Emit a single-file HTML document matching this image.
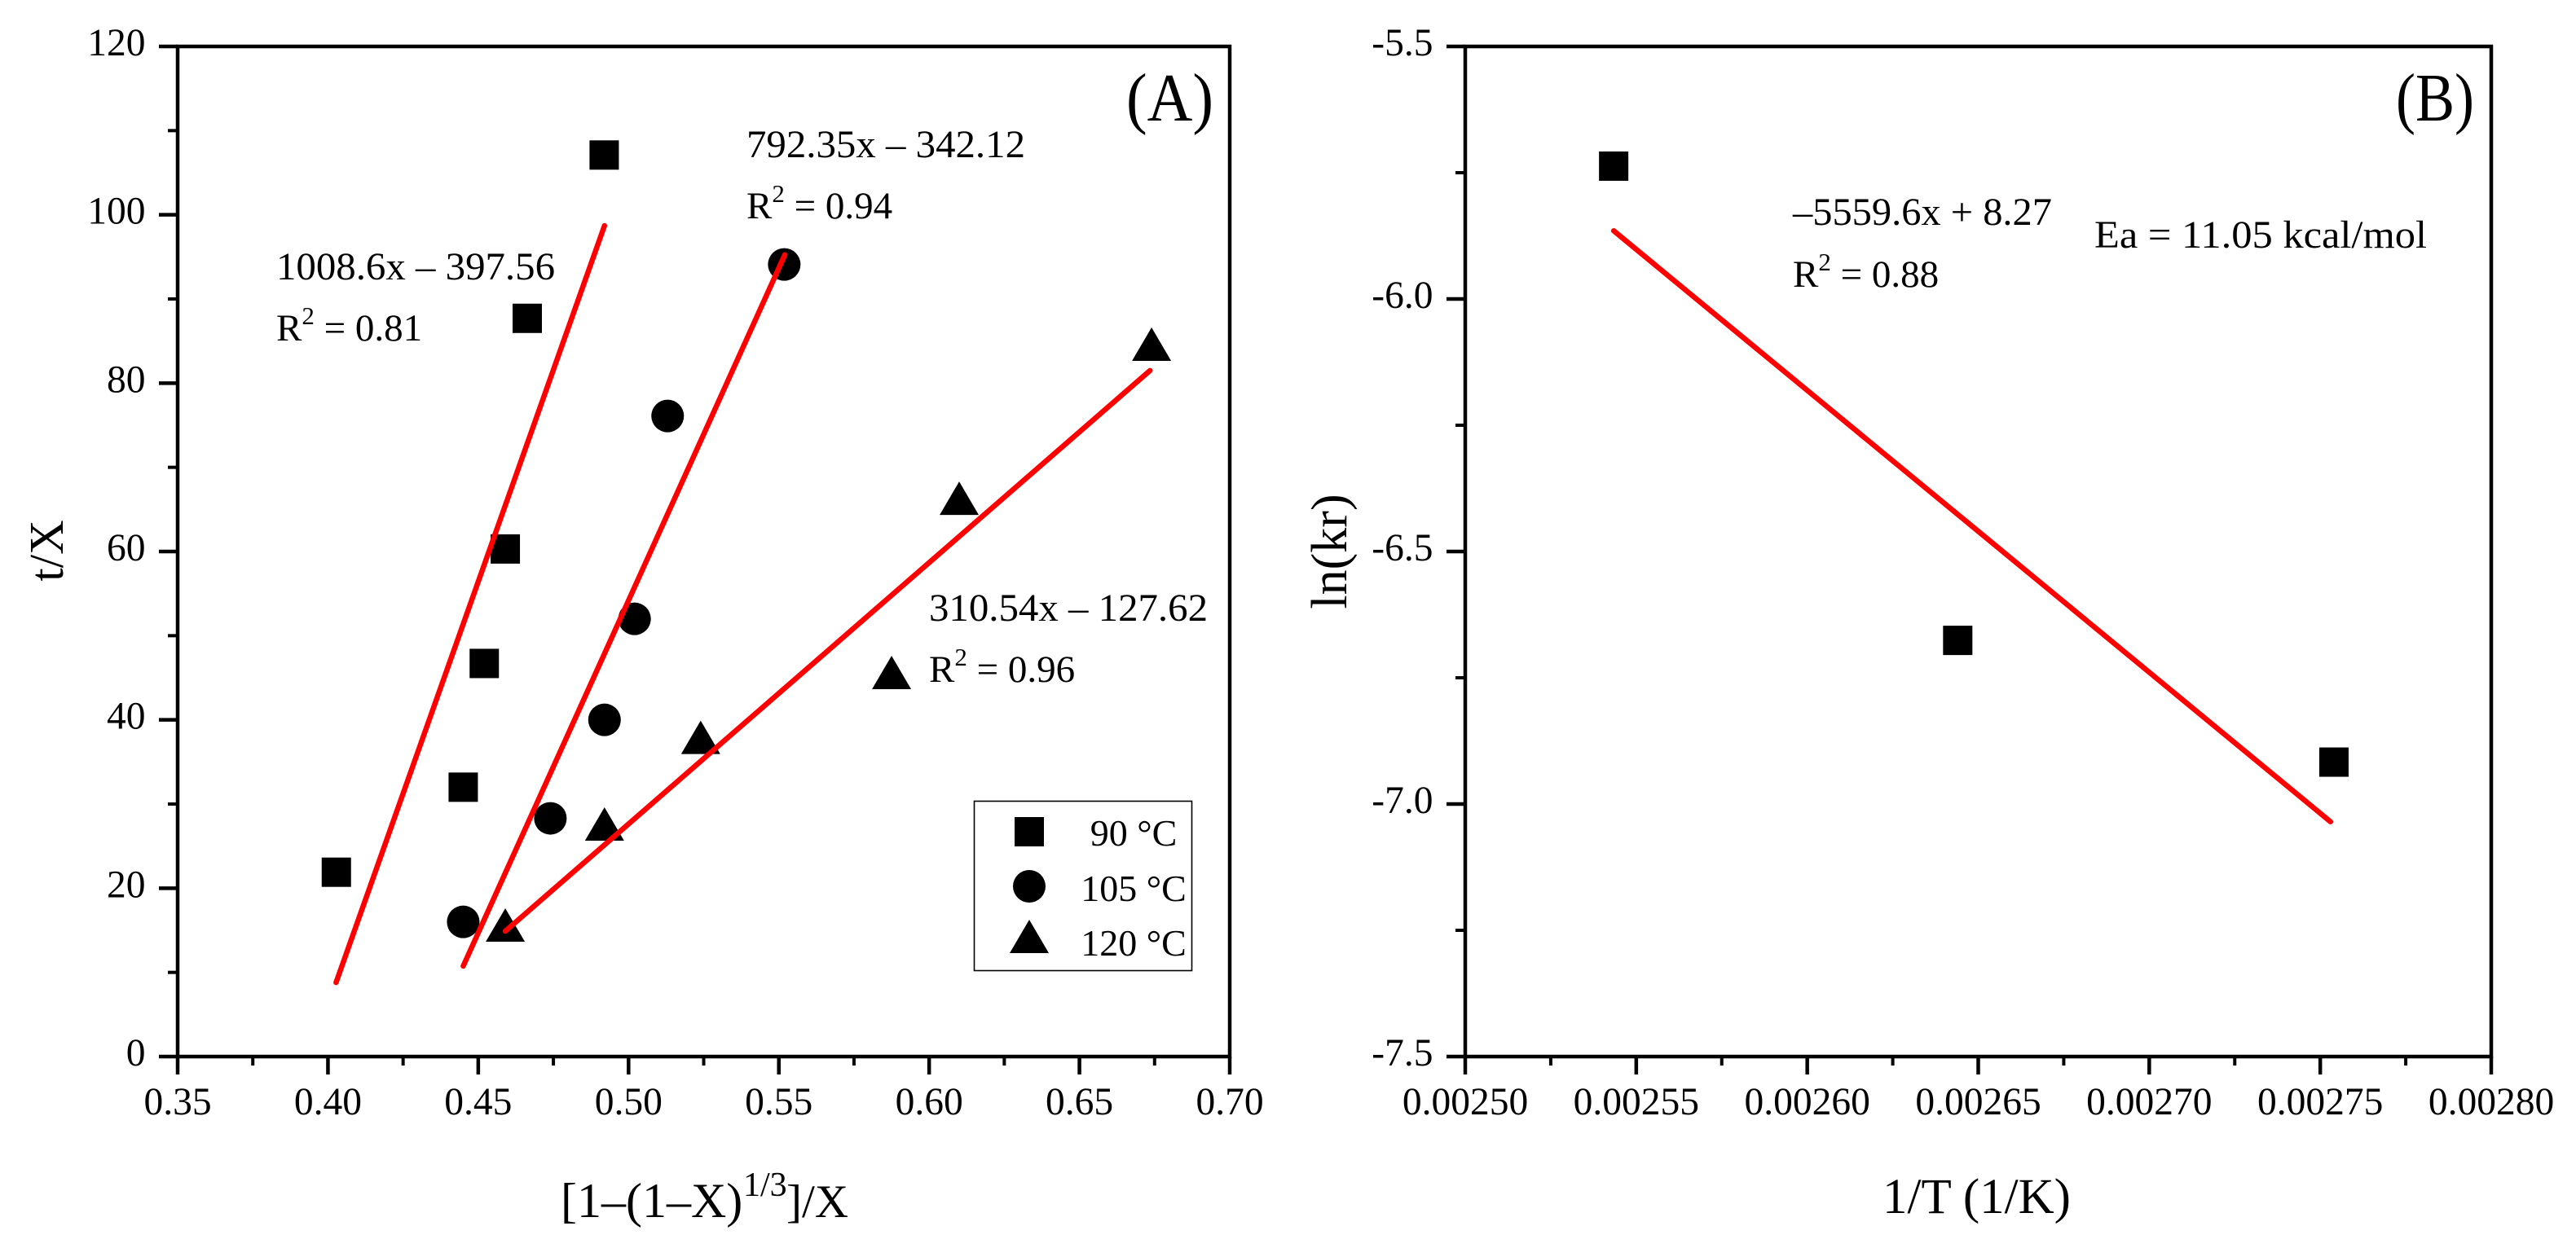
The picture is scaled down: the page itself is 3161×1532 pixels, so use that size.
<!DOCTYPE html>
<html lang="en">
<head>
<meta charset="utf-8">
<title>Kinetic plots (A) and (B)</title>
<style>
html,body{margin:0;padding:0;background:#fff;}
svg{display:block;}
text{font-family:"Liberation Serif",serif;fill:#000;}
</style>
</head>
<body>
<svg id="figure" xmlns="http://www.w3.org/2000/svg" width="3161" height="1532" viewBox="0 0 3161 1532">
  <rect x="0" y="0" width="3161" height="1532" fill="#fff"/>
  <g id="panelA"></g>
  <g id="panelB"></g>

  <text x="1382" y="148" font-size="84" textLength="107" lengthAdjust="spacingAndGlyphs">(A)</text>
  <text x="2940" y="148" font-size="84" textLength="96" lengthAdjust="spacingAndGlyphs">(B)</text>

  <text y="1494" font-size="60"><tspan x="688">[1–(1–X)</tspan><tspan x="912" dy="-26" font-size="42">1/3</tspan><tspan x="965" dy="26" font-size="57">]/X</tspan></text>
  <text transform="translate(77,676) rotate(-90)" text-anchor="middle" font-size="59">t/X</text>
  <text x="2310" y="1489" font-size="61">1/T (1/K)</text>
  <text transform="translate(1652,677) rotate(-90)" text-anchor="middle" font-size="62">ln(kr)</text>

  <text x="339" y="343" font-size="48" textLength="342" lengthAdjust="spacingAndGlyphs">1008.6x – 397.56</text>
  <text x="339" y="418" font-size="47">R<tspan dy="-20" font-size="31">2</tspan><tspan dy="20"> = 0.81</tspan></text>
  <text x="916" y="193" font-size="48" textLength="342" lengthAdjust="spacingAndGlyphs">792.35x – 342.12</text>
  <text x="916" y="268" font-size="47">R<tspan dy="-20" font-size="31">2</tspan><tspan dy="20"> = 0.94</tspan></text>
  <text x="1140" y="762" font-size="48" textLength="342" lengthAdjust="spacingAndGlyphs">310.54x – 127.62</text>
  <text x="1140" y="837" font-size="47">R<tspan dy="-20" font-size="31">2</tspan><tspan dy="20"> = 0.96</tspan></text>
  <text x="2200" y="276" font-size="48" textLength="318" lengthAdjust="spacingAndGlyphs">–5559.6x + 8.27</text>
  <text x="2200" y="352" font-size="47">R<tspan dy="-20" font-size="31">2</tspan><tspan dy="20"> = 0.88</tspan></text>
  <text x="2570" y="304" font-size="48" textLength="408" lengthAdjust="spacingAndGlyphs">Ea = 11.05 kcal/mol</text>

  <g id="legend">
    <rect x="1195.5" y="983.5" width="267" height="208" fill="#fff" stroke="#000" stroke-width="1.6"/>
    <rect x="1245" y="1003" width="36" height="36" fill="#000"/>
    <circle cx="1263" cy="1088" r="20" fill="#000"/>
    <polygon points="1263,1129 1287,1170 1239,1170" fill="#000"/>
    <text x="1391" y="1038" font-size="46" text-anchor="middle">90 °C</text>
    <text x="1391" y="1106" font-size="46" text-anchor="middle">105 °C</text>
    <text x="1391" y="1173" font-size="46" text-anchor="middle">120 °C</text>
  </g>
</svg>

<script>
// ---- Panel A data ----
const aXTicks = [0.35, 0.40, 0.45, 0.50, 0.55, 0.60, 0.65, 0.70];
const aXTickLabels = ["0.35", "0.40", "0.45", "0.50", "0.55", "0.60", "0.65", "0.70"];
const aXMinorTicks = [0.375, 0.425, 0.475, 0.525, 0.575, 0.625, 0.675];
const aYTicks = [0, 20, 40, 60, 80, 100, 120];
const aYTickLabels = ["0", "20", "40", "60", "80", "100", "120"];
const aYMinorTicks = [10, 30, 50, 70, 90, 110];

const series90X = [0.4028, 0.445, 0.452, 0.459, 0.4663, 0.4919];
const series90Y = [21.9, 32, 46.7, 60.3, 87.7, 107.1];
const series105X = [0.445, 0.474, 0.492, 0.502, 0.513, 0.5518];
const series105Y = [16, 28.3, 40, 52, 76.1, 94.1];
const series120X = [0.459, 0.492, 0.524, 0.5875, 0.61, 0.674];
const series120Y = [15, 27, 37.3, 45, 65.7, 84];

const fit90X = [0.4027, 0.492];
const fit90Y = [8.8, 98.7];
const fit105X = [0.445, 0.552];
const fit105Y = [10.75, 95.25];
const fit120X = [0.459, 0.6735];
const fit120Y = [14.9, 81.5];

// ---- Panel B data ----
const bXTicks = [0.0025, 0.00255, 0.0026, 0.00265, 0.0027, 0.00275, 0.0028];
const bXTickLabels = ["0.00250", "0.00255", "0.00260", "0.00265", "0.00270", "0.00275", "0.00280"];
const bXMinorTicks = [0.002525, 0.002575, 0.002625, 0.002675, 0.002725, 0.002775];
const bYTicks = [-7.5, -7.0, -6.5, -6.0, -5.5];
const bYTickLabels = ["-7.5", "-7.0", "-6.5", "-6.0", "-5.5"];
const bYMinorTicks = [-7.25, -6.75, -6.25, -5.75];

const arrheniusX = [0.0025434, 0.002644, 0.002754];
const arrheniusY = [-5.737, -6.676, -6.917];
const arrheniusFitX = [0.0025434, 0.002753];
const arrheniusFitY = [-5.865, -7.035];

// ---- Helpers ----
const NS = "http://www.w3.org/2000/svg";
function mk(tag, geom, parent) {
  const el = document.createElementNS(NS, tag);
  for (const k in geom) el.setAttribute(k, geom[k]);
  parent.appendChild(el);
  return el;
}
function scale(d0, d1, r0, r1) {
  return function (v) { return r0 + (v - d0) * (r1 - r0) / (d1 - d0); };
}

function drawAxes(g, sx, sy, cfg) {
  const L = sx(cfg.xMin), R = sx(cfg.xMax), T = sy(cfg.yMax), B = sy(cfg.yMin);
  const frame = mk("path", {
    d: "M" + L + " " + T + "H" + R + "V" + B + "H" + L + "Z",
    fill: "none", stroke: "#000", "stroke-width": 4.5
  }, g);
  
  

  cfg.xTicks.forEach(function (v, i) {
    const t = mk("line", { x1: sx(v), x2: sx(v), y1: B, y2: B + 22, stroke: "#000", "stroke-width": 4.5 }, g);
    
    
    const l = mk("text", { x: sx(v), y: B + 71, "font-size": 47.5, "text-anchor": "middle" }, g);
    
    
    l.textContent = cfg.xLabels[i];
  });
  cfg.xMinor.forEach(function (v) {
    const t = mk("line", { x1: sx(v), x2: sx(v), y1: B, y2: B + 11, stroke: "#000", "stroke-width": 4 }, g);
    
    
  });
  cfg.yTicks.forEach(function (v, i) {
    const t = mk("line", { x1: L - 23, x2: L, y1: sy(v), y2: sy(v), stroke: "#000", "stroke-width": 4.5 }, g);
    
    
    const l = mk("text", { x: L - 39.5, y: sy(v) + 11, "font-size": 47.5, "text-anchor": "end" }, g);
    
    
    l.textContent = cfg.yLabels[i];
  });
  cfg.yMinor.forEach(function (v) {
    const t = mk("line", { x1: L - 12, x2: L, y1: sy(v), y2: sy(v), stroke: "#000", "stroke-width": 4 }, g);
    
    
  });
}

function drawSquares(g, sx, sy, xs, ys) {
  xs.forEach(function (x, i) {
    const m = mk("rect", { x: sx(x) - 18, y: sy(ys[i]) - 18, width: 36, height: 36, fill: "#000" }, g);
    
    
  });
}
function drawCircles(g, sx, sy, xs, ys) {
  xs.forEach(function (x, i) {
    const m = mk("circle", { cx: sx(x), cy: sy(ys[i]), r: 20, fill: "#000" }, g);
    
    
  });
}
function drawTriangles(g, sx, sy, xs, ys) {
  xs.forEach(function (x, i) {
    const cx = sx(x), cy = sy(ys[i]);
    const pts = cx + "," + (cy - 27) + " " + (cx + 24) + "," + (cy + 14) + " " + (cx - 24) + "," + (cy + 14);
    const m = mk("polygon", { points: pts, fill: "#000" }, g);
    
    
  });
}
function drawFit(g, sx, sy, xs, ys) {
  const line = mk("line", {
    x1: sx(xs[0]), y1: sy(ys[0]), x2: sx(xs[1]), y2: sy(ys[1]),
    stroke: "#ff0000", "stroke-width": 6.5, "stroke-linecap": "round"
  }, g);
  
  
}

// ---- Panel A ----
const gA = document.getElementById("panelA");
const ax = scale(0.35, 0.70, 218, 1509);
const ay = scale(0, 120, 1297, 57);
drawAxes(gA, ax, ay, {
  xMin: 0.35, xMax: 0.70, yMin: 0, yMax: 120,
  xTicks: aXTicks, xLabels: aXTickLabels, xMinor: aXMinorTicks,
  yTicks: aYTicks, yLabels: aYTickLabels, yMinor: aYMinorTicks
});
drawSquares(gA, ax, ay, series90X, series90Y);
drawCircles(gA, ax, ay, series105X, series105Y);
drawTriangles(gA, ax, ay, series120X, series120Y);
drawFit(gA, ax, ay, fit90X, fit90Y);
drawFit(gA, ax, ay, fit105X, fit105Y);
drawFit(gA, ax, ay, fit120X, fit120Y);

// ---- Panel B ----
const gB = document.getElementById("panelB");
const bx = scale(0.0025, 0.0028, 1798, 3057);
const by = scale(-7.5, -5.5, 1297, 57);
drawAxes(gB, bx, by, {
  xMin: 0.0025, xMax: 0.0028, yMin: -7.5, yMax: -5.5,
  xTicks: bXTicks, xLabels: bXTickLabels, xMinor: bXMinorTicks,
  yTicks: bYTicks, yLabels: bYTickLabels, yMinor: bYMinorTicks
});
drawSquares(gB, bx, by, arrheniusX, arrheniusY);
drawFit(gB, bx, by, arrheniusFitX, arrheniusFitY);
</script>
</body>
</html>
